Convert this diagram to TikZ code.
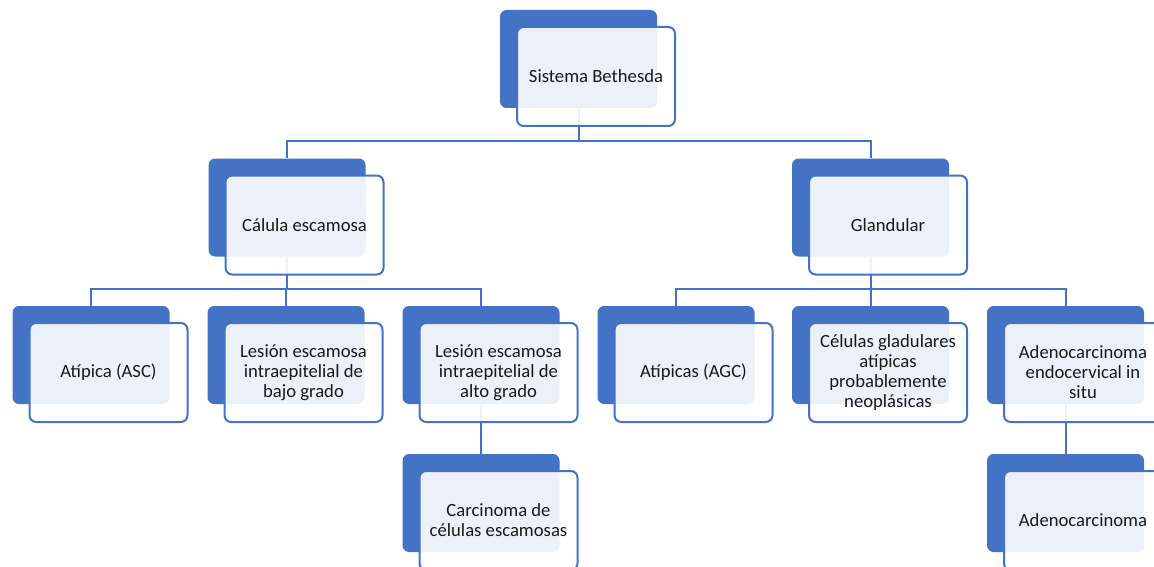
\documentclass[tikz,border=0pt]{standalone}
\usepackage{fontspec}
\setmainfont{Carlito}
\usetikzlibrary{backgrounds}
\definecolor{accent}{RGB}{68,114,196}
\tikzset{every picture/.style={line width=0.75pt}}
\tikzset{
  back/.style={draw=none, fill=accent, rounded corners=5pt, minimum width=117.75pt, minimum height=73.5pt, inner sep=0pt},
  front/.style={draw=accent, line width=1.5pt, fill=white, fill opacity=0.9, text opacity=1, rounded corners=5pt, minimum width=118.5pt, minimum height=74.25pt, inner sep=1pt, align=center, font=\fontsize{14}{15}\selectfont, text=black!90},
  link/.style={draw=accent, line width=1.5pt}
}

\begin{document}
\begin{tikzpicture}[x=0.75pt,y=0.75pt,yscale=-1,xscale=1]
\useasboundingbox (0,0) rectangle (1154,567);

% Level 0
\node[back] (sisB) at (578.5,59) {};
\node[front] (sisF) at (596,76.5) {Sistema Bethesda};

% Level 1
\node[back] (escB) at (287,207.5) {};
\node[front] (escF) at (304.5,225) {Cálula escamosa};
\node[back] (glaB) at (870.5,207.5) {};
\node[front] (glaF) at (888,225) {Glandular};

% Level 2
\node[back] (ascB) at (91,355) {};
\node[front] (ascF) at (108.5,372.5) {Atípica (ASC)};
\node[back] (bajoB) at (286,355) {};
\node[front] (bajoF) at (303.5,372.5) {Lesión escamosa\\intraepitelial de\\bajo grado};
\node[back] (altoB) at (481,355) {};
\node[front] (altoF) at (498.5,372.5) {Lesión escamosa\\intraepitelial de\\alto grado};
\node[back] (agcB) at (676,355) {};
\node[front] (agcF) at (693.5,372.5) {Atípicas (AGC)};
\node[back] (neoB) at (870.5,355) {};
\node[front] (neoF) at (888,372.5) {Células gladulares\\atípicas\\probablemente\\neoplásicas};
\node[back] (insituB) at (1065.5,355) {};
\node[front] (insituF) at (1083,372.5) {Adenocarcinoma\\endocervical in\\situ};

% Level 3
\node[back] (carB) at (481,503) {};
\node[front] (carF) at (498.5,520.5) {Carcinoma de\\células escamosas};
\node[back] (adenoB) at (1065.5,503) {};
\node[front] (adenoF) at (1083,520.5) {Adenocarcinoma};

% Connectors
\begin{scope}[on background layer]
\draw[link] (sisB.south) -- ++(0,33) -| (escB.north);
\draw[link] (sisB.south) -- ++(0,33) -| (glaB.north);
\draw[link] (escB.south) -- ++(0,32) -| (ascB.north);
\draw[link] (escB.south) -- ++(0,32) -| (bajoB.north);
\draw[link] (escB.south) -- ++(0,32) -| (altoB.north);
\draw[link] (glaB.south) -- ++(0,32) -| (agcB.north);
\draw[link] (glaB.south) -- ++(0,32) -| (neoB.north);
\draw[link] (glaB.south) -- ++(0,32) -| (insituB.north);
\draw[link] (altoB.south) -- (carB.north);
\draw[link] (insituB.south) -- (adenoB.north);
\end{scope}

\end{tikzpicture}
\end{document}
